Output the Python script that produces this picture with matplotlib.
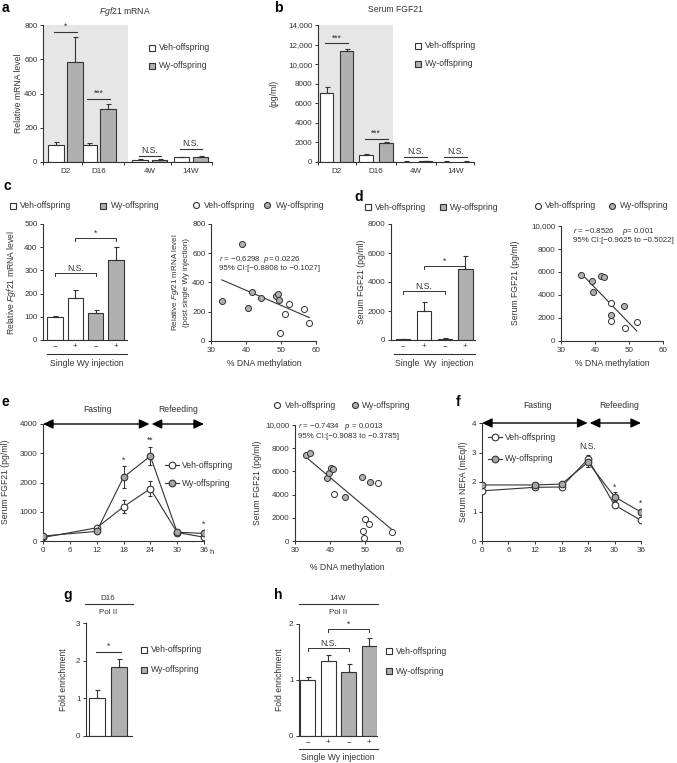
import numpy as np
import matplotlib
matplotlib.use('Agg')
import matplotlib.pyplot as plt
from matplotlib.lines import Line2D
from matplotlib.ticker import FuncFormatter

plt.rcParams['font.family'] = ['Liberation Sans', 'DejaVu Sans']
plt.rcParams['mathtext.fontset'] = 'custom'
plt.rcParams['mathtext.rm'] = 'Liberation Sans'
plt.rcParams['mathtext.it'] = 'Liberation Sans:italic'

W, H = 677, 763
INK = '#333333'
GREY = '#b0b0b0'
SHADE = '#e6e6e6'
FS_TICK = 5.8
FS = 6.2
FS_STAT = 5.7

# ---- a: liver Fgf21 mRNA ----
a_groups = ['D2', 'D16', '4W', '14W']
a_veh = [100, 100, 12, 27]
a_veh_err = [18, 12, 4, 3]
a_wy = [585, 312, 12, 30]
a_wy_err = [145, 28, 4, 3]
a_sig = ['*', '***', 'N.S.', 'N.S.']
a_sig_y = [760, 368, 37, 76]

# ---- b: serum FGF21 ----
b_groups = ['D2', 'D16', '4W', '14W']
b_veh = [7100, 700, 50, 40]
b_veh_err = [600, 80, 20, 15]
b_wy = [11300, 1900, 60, 50]
b_wy_err = [200, 100, 20, 15]
b_sig = ['***', '***', 'N.S.', 'N.S.']
b_sig_y = [12150, 2350, 510, 510]

# ---- c: single Wy injection, mRNA ----
inj_signs = ['\u2212', '+', '\u2212', '+']
c_vals = [100, 180, 118, 343]
c_err = [5, 35, 10, 60]
c_brackets = [(0, 2, 290, 'N.S.'), (1, 3, 440, '*')]

c_veh_x = [52.4, 51.2, 56.5, 57.9, 49.8]
c_veh_y = [251, 187, 217, 121, 57]
c_wy_x = [33.1, 38.9, 40.6, 41.8, 44.2, 48.5, 49.1, 49.4]
c_wy_y = [274, 663, 224, 334, 293, 309, 322, 281]
c_fit_x = [33.1, 58.1]
c_fit_y = [418, 160]

# ---- d: single Wy injection, serum ----
d_vals = [50, 2000, 100, 4870]
d_err = [10, 620, 30, 950]
d_brackets = [(0, 2, 3380, 'N.S.'), (1, 3, 5100, '*')]

d_veh_x = [44.8, 44.8, 48.9, 52.3]
d_veh_y = [3300, 1740, 1160, 1620]
d_wy_x = [35.9, 39.2, 39.3, 41.7, 42.7, 44.8, 48.5]
d_wy_y = [5710, 5220, 4290, 5650, 5540, 2260, 3010]
d_fit_x = [35.9, 52.3]
d_fit_y = [5880, 870]

# ---- e: fasting / refeeding serum FGF21 ----
e_t = [0, 12, 18, 24, 30, 36]
e_veh = [120, 450, 1170, 1790, 290, 130]
e_veh_err = [40, 50, 220, 250, 50, 30]
e_wy = [170, 330, 2180, 2900, 300, 260]
e_wy_err = [40, 40, 370, 300, 60, 70]
e_sig = [(18, 2620, '*'), (24, 3280, '**'), (36, 420, '*')]

e_veh_x = [41.0, 53.8, 50.1, 51.0, 49.3, 49.8, 57.8]
e_veh_y = [4050, 5000, 1900, 1470, 860, 260, 780]
e_wy_x = [33.1, 34.2, 39.1, 39.6, 40.2, 40.8, 44.2, 49.0, 51.5]
e_wy_y = [7410, 7590, 5430, 5860, 6290, 6250, 3790, 5520, 5090]
e_fit_x = [33.1, 57.5]
e_fit_y = [7240, 1030]

# ---- f: serum NEFA ----
f_t = [0, 12, 18, 24, 30, 36]
f_veh = [1.70, 1.82, 1.83, 2.78, 1.22, 0.70]
f_veh_err = [0.05, 0.06, 0.06, 0.12, 0.08, 0.04]
f_wy = [1.90, 1.90, 1.93, 2.67, 1.50, 0.98]
f_wy_err = [0.07, 0.07, 0.06, 0.15, 0.15, 0.06]
f_sig = [(24, 3.05, 'N.S.'), (30, 1.68, '*'), (36, 1.12, '*')]

# ---- g / h: Pol II ChIP ----
g_vals = [1.0, 1.83]
g_err = [0.22, 0.22]
g_sig_y = 2.23

h_vals = [1.0, 1.34, 1.14, 1.60]
h_err = [0.06, 0.10, 0.14, 0.15]
h_brackets = [(0, 2, 1.57, 'N.S.'), (1, 3, 1.91, '*')]

fig = plt.figure(figsize=(W / 100, H / 100), dpi=100)


def fx(x):
    return x / W


def fy(y):
    return 1 - y / H


def add_ax(l, t, r, b):
    ax = fig.add_axes([fx(l), fy(b), (r - l) / W, (b - t) / H])
    for s in ['top', 'right']:
        ax.spines[s].set_visible(False)
    for s in ['left', 'bottom']:
        ax.spines[s].set_linewidth(0.8)
        ax.spines[s].set_color(INK)
    ax.tick_params(direction='out', length=2.5, width=0.7, labelsize=FS_TICK,
                   pad=1.5, colors=INK)
    return ax


def ftext(x, y, s, **kw):
    kw.setdefault('fontsize', FS)
    kw.setdefault('color', INK)
    fig.text(fx(x), fy(y), s, **kw)


def fline(x0, x1, y, lw=0.8):
    fig.add_artist(Line2D([fx(x0), fx(x1)], [fy(y), fy(y)], color=INK, lw=lw))


def leg_marker(x, y, marker, face, label, tx):
    fig.add_artist(Line2D([fx(x)], [fy(y)], marker=marker, ms=4.3, mfc=face,
                          mec=INK, mew=0.8, ls='none'))
    ftext(tx, y, label, ha='left', va='center')


def leg_line(x, y, face, label, tx):
    fig.add_artist(Line2D([fx(x - 7), fx(x + 7)], [fy(y), fy(y)], color=INK, lw=0.8))
    fig.add_artist(Line2D([fx(x)], [fy(y)], marker='o', ms=4.8, mfc=face,
                          mec=INK, mew=0.8, ls='none'))
    ftext(tx, y, label, ha='left', va='center')


def ylab(x, y, s, fs=FS):
    ftext(x, y, s, rotation=90, ha='center', va='center', fontsize=fs)


def bars(ax, xs, vals, errs, faces, width):
    ax.bar(xs, vals, width=width, color=faces, edgecolor=INK, linewidth=0.8, zorder=2)
    ax.errorbar(xs, vals, yerr=[np.zeros(len(vals)), errs], fmt='none', ecolor=INK,
                elinewidth=0.8, capsize=1.8, capthick=0.8, zorder=3)


def bracket(ax, x0, x1, y, label, drop):
    ax.plot([x0, x0, x1, x1], [y - drop, y, y, y - drop], color=INK, lw=0.7,
            clip_on=False)
    ax.text((x0 + x1) / 2, y, label, ha='center', va='bottom', fontsize=FS, color=INK)


def fmt_comma(v, pos):
    return f'{int(v):,}' if v >= 10000 else f'{int(v)}'


def panel_letter(x, y, s):
    ftext(x, y, s, fontsize=10, fontweight='bold', color='black', ha='left', va='center')


# ================= a =================
ax = add_ax(43, 25, 212, 162)
centers = np.array([2.25, 5.55, 10.68, 14.8])
ax.axvspan(0, 8.5, color=SHADE, zorder=0, lw=0)
bars(ax, centers - 0.97, a_veh, a_veh_err, 'white', 1.55)
bars(ax, centers + 0.97, a_wy, a_wy_err, GREY, 1.55)
for c, s, y in zip(centers, a_sig, a_sig_y):
    ax.plot([c - 1.12, c + 1.12], [y, y], color=INK, lw=0.8)
    ax.text(c, y + 5, s, ha='center', va='bottom', fontsize=FS, color=INK)
ax.set_xlim(0, 16.9)
ax.set_ylim(0, 800)
ax.set_yticks([0, 200, 400, 600, 800])
ax.set_xticks(centers)
ax.set_xticklabels(a_groups)
ax.tick_params(axis='x', length=0, pad=4)
ax.set_xticks([0, 3.9, 8.1, 12.75, 16.9], minor=True)
ax.tick_params(axis='x', which='minor', length=2.5, width=0.7, colors=INK)
ftext(125, 12, '$\\it{Fgf21}$ mRNA', ha='center', va='center')
ylab(19, 93, 'Relative mRNA level')
leg_marker(152, 48, 's', 'white', 'Veh-offspring', 159)
leg_marker(152, 66, 's', GREY, 'Wy-offspring', 159)
panel_letter(2, 8, 'a')

# ================= b =================
ax = add_ax(318, 25, 474, 162)
centers = np.array([1.85, 5.8, 9.75, 13.75])
ax.axvspan(0, 7.5, color=SHADE, zorder=0, lw=0)
bars(ax, centers - 1.0, b_veh, b_veh_err, 'white', 1.38)
bars(ax, centers + 1.0, b_wy, b_wy_err, GREY, 1.38)
for c, s, y in zip(centers, b_sig, b_sig_y):
    ax.plot([c - 1.15, c + 1.15], [y, y], color=INK, lw=0.8)
    ax.text(c, y + 80, s, ha='center', va='bottom', fontsize=FS, color=INK)
ax.set_xlim(0, 15.6)
ax.set_ylim(0, 14000)
ax.set_yticks(np.arange(0, 14001, 2000))
ax.yaxis.set_major_formatter(FuncFormatter(fmt_comma))
ax.set_xticks(centers)
ax.set_xticklabels(b_groups)
ax.tick_params(axis='x', length=0, pad=4)
ax.set_xticks([0, 3.8, 7.8, 11.75, 15.6], minor=True)
ax.tick_params(axis='x', which='minor', length=2.5, width=0.7, colors=INK)
ftext(395, 10, 'Serum FGF21', ha='center', va='center')
ylab(274, 93, '(pg/ml)')
leg_marker(418, 46, 's', 'white', 'Veh-offspring', 425)
leg_marker(418, 64, 's', GREY, 'Wy-offspring', 425)
panel_letter(274, 8, 'b')

# ================= c (bars) =================
ax = add_ax(43, 224, 127, 340)
xs = np.arange(4)
bars(ax, xs, c_vals, c_err, ['white', 'white', GREY, GREY], 0.74)
for x0, x1, y, s in c_brackets:
    bracket(ax, x0, x1, y, s, 14)
ax.set_xlim(-0.59, 3.54)
ax.set_ylim(0, 500)
ax.set_yticks(np.arange(0, 501, 100))
ax.set_xticks(xs)
ax.set_xticklabels(inj_signs)
ax.tick_params(axis='x', length=0, pad=2.5)
fline(47, 127, 354)
ftext(87, 364, 'Single Wy injection', ha='center', va='center')
ylab(12, 282, 'Relative $\\it{Fgf21}$ mRNA level')
leg_marker(13, 206, 's', 'white', 'Veh-offspring', 20)
leg_marker(103, 206, 's', GREY, 'Wy-offspring', 111)
panel_letter(3, 186, 'c')

# ================= c (scatter) =================
ax = add_ax(211, 224, 316, 341)
ax.plot(c_fit_x, c_fit_y, color=INK, lw=0.8)
ax.scatter(c_wy_x, c_wy_y, s=19, facecolor=GREY, edgecolor=INK, lw=0.7, zorder=3)
ax.scatter(c_veh_x, c_veh_y, s=19, facecolor='white', edgecolor=INK, lw=0.7, zorder=3)
ax.set_xlim(30, 60)
ax.set_ylim(0, 800)
ax.set_xticks([30, 40, 50, 60])
ax.set_yticks([0, 200, 400, 600, 800])
ax.text(32.2, 560, '$\\it{r}$ = \u22120.6298  $\\it{p}$= 0.0226', fontsize=FS_STAT,
        color=INK, va='center', ha='left')
ax.text(32.2, 498, '95% CI:[\u22120.8808 to \u22120.1027]', fontsize=FS_STAT, color=INK,
        va='center', ha='left')
ftext(264, 363, '% DNA methylation', ha='center', va='center')
ylab(176, 282, 'Relative $\\it{Fgf21}$ mRNA level', fs=5.8)
ylab(186, 282, '(post single Wy injection)', fs=5.8)
leg_marker(196, 205, 'o', 'white', 'Veh-offspring', 204)
leg_marker(267, 205, 'o', GREY, 'Wy-offspring', 276)

# ================= d (bars) =================
ax = add_ax(391, 224, 475, 340)
bars(ax, xs, d_vals, d_err, ['white', 'white', GREY, GREY], 0.68)
for x0, x1, y, s in d_brackets:
    bracket(ax, x0, x1, y, s, 220)
ax.set_xlim(-0.58, 3.46)
ax.set_ylim(0, 8000)
ax.set_yticks(np.arange(0, 8001, 2000))
ax.set_xticks(xs)
ax.set_xticklabels(inj_signs)
ax.tick_params(axis='x', length=0, pad=2.5)
fline(394, 475, 354)
ftext(434, 364, 'Single  Wy  injection', ha='center', va='center')
ylab(362, 282, 'Serum FGF21 (pg/ml)')
leg_marker(368, 207, 's', 'white', 'Veh-offspring', 375)
leg_marker(443, 207, 's', GREY, 'Wy-offspring', 450)
panel_letter(354, 197, 'd')

# ================= d (scatter) =================
ax = add_ax(561, 226, 663, 341)
ax.plot(d_fit_x, d_fit_y, color=INK, lw=0.8)
ax.scatter(d_wy_x, d_wy_y, s=19, facecolor=GREY, edgecolor=INK, lw=0.7, zorder=3)
ax.scatter(d_veh_x, d_veh_y, s=19, facecolor='white', edgecolor=INK, lw=0.7, zorder=3)
ax.set_xlim(30, 60)
ax.set_ylim(0, 10000)
ax.set_xticks([30, 40, 50, 60])
ax.set_yticks(np.arange(0, 10001, 2000))
ax.yaxis.set_major_formatter(FuncFormatter(fmt_comma))
ax.text(33.6, 9500, '$\\it{r}$ = \u22120.8526    $\\it{p}$= 0.001', fontsize=FS_STAT,
        color=INK, va='center', ha='left')
ax.text(33.6, 8780, '95% CI:[\u22120.9625 to \u22120.5022]', fontsize=FS_STAT, color=INK,
        va='center', ha='left', clip_on=False)
ftext(612, 364, '% DNA methylation', ha='center', va='center')
ylab(516, 283, 'Serum FGF21 (pg/ml)')
leg_marker(538, 206, 'o', 'white', 'Veh-offspring', 545)
leg_marker(612, 206, 'o', GREY, 'Wy-offspring', 620)

# ================= e (time course) =================
arrow_kw = dict(arrowstyle='<|-|>,head_length=0.6,head_width=0.28', color='black',
                lw=1.0, shrinkA=0, shrinkB=0, mutation_scale=10)

ax = add_ax(43, 424, 204, 541)
ax.errorbar(e_t, e_veh, yerr=e_veh_err, fmt='-o', color=INK, mfc='white', mec=INK,
            ms=4.8, mew=0.8, lw=0.8, elinewidth=0.7, capsize=1.6, capthick=0.7, zorder=3)
ax.errorbar(e_t, e_wy, yerr=e_wy_err, fmt='-o', color=INK, mfc='#a6a6a6', mec=INK,
            ms=4.8, mew=0.8, lw=0.8, elinewidth=0.7, capsize=1.6, capthick=0.7, zorder=3)
for t, y, s in e_sig:
    ax.text(t, y, s, ha='center', va='bottom', fontsize=FS, color=INK)
ax.set_xlim(0, 36)
ax.set_ylim(0, 4000)
ax.set_xticks(np.arange(0, 37, 6))
ax.set_yticks(np.arange(0, 4001, 1000))
ax.annotate('', xy=(23.8, 4000), xytext=(0, 4000), arrowprops=arrow_kw,
            annotation_clip=False)
ax.annotate('', xy=(36, 4000), xytext=(24.3, 4000), arrowprops=arrow_kw,
            annotation_clip=False)
ftext(97, 410, 'Fasting', ha='center', va='center')
ftext(178, 410, 'Refeeding', ha='center', va='center')
ftext(210, 553, 'h', ha='left', va='center', fontsize=FS_TICK)
ylab(6, 482, 'Serum FGF21 (pg/ml)')
leg_line(172, 465, 'white', 'Veh-offspring', 182)
leg_line(172, 483, '#a6a6a6', 'Wy-offspring', 182)
panel_letter(2, 402, 'e')

# ================= e (scatter) =================
ax = add_ax(295, 425, 400, 541)
ax.plot(e_fit_x, e_fit_y, color=INK, lw=0.8)
ax.scatter(e_wy_x, e_wy_y, s=19, facecolor=GREY, edgecolor=INK, lw=0.7, zorder=3)
ax.scatter(e_veh_x, e_veh_y, s=19, facecolor='white', edgecolor=INK, lw=0.7, zorder=3)
ax.set_xlim(30, 60)
ax.set_ylim(0, 10000)
ax.set_xticks([30, 40, 50, 60])
ax.set_yticks(np.arange(0, 10001, 2000))
ax.yaxis.set_major_formatter(FuncFormatter(fmt_comma))
ax.text(30.9, 9850, '$\\it{r}$ = \u22120.7434   $\\it{p}$ = 0.0013', fontsize=FS_STAT,
        color=INK, va='center', ha='left', clip_on=False)
ax.text(30.9, 9050, '95% CI:[\u22120.9083 to \u22120.3785]', fontsize=FS_STAT, color=INK,
        va='center', ha='left', clip_on=False)
ftext(347, 567, '% DNA methylation', ha='center', va='center')
ylab(258, 483, 'Serum FGF21 (pg/ml)')
leg_marker(277, 405, 'o', 'white', 'Veh-offspring', 285)
leg_marker(355, 405, 'o', GREY, 'Wy-offspring', 362)

# ================= f =================
ax = add_ax(482, 423, 641, 541)
ax.errorbar(f_t, f_veh, yerr=f_veh_err, fmt='-o', color=INK, mfc='white', mec=INK,
            ms=4.8, mew=0.8, lw=0.8, elinewidth=0.7, capsize=1.6, capthick=0.7, zorder=3)
ax.errorbar(f_t, f_wy, yerr=f_wy_err, fmt='-o', color=INK, mfc='#a6a6a6', mec=INK,
            ms=4.8, mew=0.8, lw=0.8, elinewidth=0.7, capsize=1.6, capthick=0.7, zorder=3)
for t, y, s in f_sig:
    ax.text(t, y, s, ha='center', va='bottom', fontsize=FS, color=INK)
ax.set_xlim(0, 36)
ax.set_ylim(0, 4)
ax.set_xticks(np.arange(0, 37, 6))
ax.set_yticks([0, 1, 2, 3, 4])
ax.annotate('', xy=(23.9, 4), xytext=(0, 4), arrowprops=arrow_kw, annotation_clip=False)
ax.annotate('', xy=(36, 4), xytext=(24.4, 4), arrowprops=arrow_kw, annotation_clip=False)
ftext(538, 406, 'Fasting', ha='center', va='center')
ftext(619, 406, 'Refeeding', ha='center', va='center')
ylab(464, 482, 'Serum NEFA (mEq/l)')
leg_line(495, 437, 'white', 'Veh-offspring', 505)
leg_line(495, 459, '#a6a6a6', 'Wy-offspring', 505)
panel_letter(456, 402, 'f')

# ================= g =================
ax = add_ax(86, 623, 132, 736)
bars(ax, [0, 1], g_vals, g_err, ['white', GREY], 0.71)
ax.plot([-0.05, 1.05], [g_sig_y, g_sig_y], color=INK, lw=0.8)
ax.text(0.5, g_sig_y + 0.03, '*', ha='center', va='bottom', fontsize=FS, color=INK)
ax.set_xlim(-0.49, 1.56)
ax.set_ylim(0, 3)
ax.set_yticks([0, 1, 2, 3])
ax.set_xticks([])
ftext(108, 598, 'D16', ha='center', va='center', fontsize=5.8)
fline(85, 133, 604)
ftext(108, 613, 'Pol II', ha='center', va='center', fontsize=5.8)
ylab(64, 680, 'Fold enrichment')
leg_marker(144, 650, 's', 'white', 'Veh-offspring', 151)
leg_marker(144, 670, 's', GREY, 'Wy-offspring', 151)
panel_letter(63, 595, 'g')

# ================= h =================
ax = add_ax(299, 624, 377, 736)
bars(ax, xs, h_vals, h_err, ['white', 'white', GREY, GREY], 0.74)
for x0, x1, y, s in h_brackets:
    bracket(ax, x0, x1, y, s, 0.05)
ax.set_xlim(-0.44, 3.39)
ax.set_ylim(0, 2)
ax.set_yticks([0, 1, 2])
ax.set_xticks(xs)
ax.set_xticklabels(inj_signs)
ax.tick_params(axis='x', length=0, pad=2.5)
ftext(338, 598, '14W', ha='center', va='center', fontsize=5.8)
fline(299, 378, 604)
ftext(338, 613, 'Pol II', ha='center', va='center', fontsize=5.8)
fline(299, 378, 749)
ftext(338, 757, 'Single Wy injection', ha='center', va='center')
ylab(279, 680, 'Fold enrichment')
leg_marker(389, 651, 's', 'white', 'Veh-offspring', 396)
leg_marker(389, 671, 's', GREY, 'Wy-offspring', 396)
panel_letter(274, 595, 'h')

fig.savefig('out.png', dpi=100)
